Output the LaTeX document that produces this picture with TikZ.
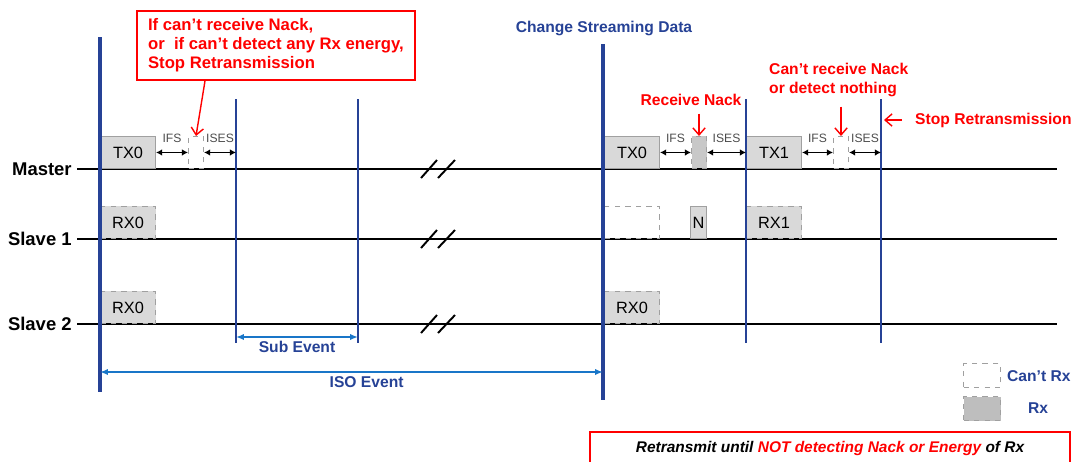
\documentclass[tikz,border=0pt]{standalone}
\usepackage{fontspec}
\setmainfont{Liberation Sans}
\usetikzlibrary{arrows.meta,positioning}

\definecolor{evblue}{RGB}{38,66,150}
\definecolor{evarrow}{RGB}{25,118,200}
\definecolor{pktgray}{RGB}{217,217,217}
\definecolor{slotgray}{RGB}{200,200,200}
\definecolor{pktline}{RGB}{160,160,160}

\begin{document}
\begin{tikzpicture}[x=0.02cm,y=-0.02cm,>=Latex,
  pkt/.style={draw=pktline,fill=pktgray,line width=0.6pt,inner sep=0pt,
    minimum width=1.1cm,minimum height=0.64cm,anchor=south west,
    font=\fontsize{9.3}{10}\selectfont},
  rxpkt/.style={pkt,dashed},
  slot/.style={draw=pktline,dashed,line width=0.6pt,inner sep=0pt,
    minimum width=0.3cm,minimum height=0.64cm,anchor=south west},
  gap/.style={{Latex[length=3.5pt,width=3.8pt]}-{Latex[length=3.5pt,width=3.8pt]},line width=0.9pt},
  gaplabel/.style={above=5pt,inner sep=0pt,text=black!70,font=\fontsize{6.9}{7}\selectfont},
  lane/.style={line width=1.1pt},
  lanename/.style={anchor=east,inner sep=0pt,font=\bfseries\fontsize{10.5}{12}\selectfont},
  evline/.style={evblue,line width=2.3pt},
  subline/.style={evblue,line width=0.6pt},
  span/.style={{Latex[length=4.5pt,width=3.6pt]}-{Latex[length=4.5pt,width=3.6pt]},evarrow,line width=0.9pt},
  spanlabel/.style={inner sep=1pt,text=evblue,font=\bfseries\fontsize{8.9}{10}\selectfont},
  note/.style={text=red,font=\bfseries\fontsize{8.9}{10.8}\selectfont},
  notearrow/.style={red,line width=0.8pt,-{Straight Barb[length=4pt,width=7pt]}},
]

\useasboundingbox (0,0) rectangle (1074,461);

% lanes
\foreach \ly/\lname/\ltext in {169/master/Master,239/slave1/Slave 1,324/slave2/Slave 2}{
  \draw[lane] (77,\ly) -- (1057,\ly);
  \node[lanename] (\lname) at (72,\ly) {\ltext};
  \draw[lane] (421,{\ly+9}) -- (437,{\ly-9});
  \draw[lane] (438,{\ly+9}) -- (455,{\ly-9});
}

% sub event boundaries
\coordinate (sub1) at (236,99);
\coordinate (sub2) at (358,99);
\coordinate (retx) at (746,99);
\coordinate (stopx) at (881,99);

% first ISO event
\node[pkt] (tx0) at (100,169) {TX0};
\node[slot] (s0) at (188,169) {};
\node[rxpkt] (rx0a) at (100,239) {RX0};
\node[rxpkt] (rx0b) at (100,324) {RX0};

% second ISO event
\node[pkt] (tx0n) at (604,169) {TX0};
\node[slot,fill=slotgray] (s1) at (691,169) {};
\node[pkt] (tx1) at (746,169) {TX1};
\node[slot] (s2) at (833,169) {};
\node[rxpkt,fill=white] (lost) at (604,239) {};
\node[pkt,minimum width=0.32cm] (nack) at (690,239) {N};
\node[rxpkt] (rx1) at (746,239) {RX1};
\node[rxpkt] (rx0c) at (604,324) {RX0};

% event lines
\draw[evline] (100,37) -- (100,392);
\draw[evline] (603,44) -- (603,400);
\foreach \c in {sub1,sub2,retx,stopx}
  \draw[subline] (\c) -- ++(0,244);

% inter frame spacing
\draw[gap] (tx0) -- (s0) node[midway,gaplabel] {IFS};
\draw[gap] (s0) -- (s0 -| sub1) node[midway,gaplabel] {ISES};
\draw[gap] (tx0n) -- (s1) node[midway,gaplabel] {IFS};
\draw[gap] (s1) -- (tx1) node[midway,gaplabel] {ISES};
\draw[gap] (tx1) -- (s2) node[midway,gaplabel] {IFS};
\draw[gap] (s2) -- (s2 -| stopx) node[midway,gaplabel] {ISES};

% event spans
\coordinate (iso0) at (100,372);
\coordinate (iso1) at (603,372);
\draw[span] (sub1 |- 0,337) -- (sub2 |- 0,337) node[midway,below=1pt,spanlabel] (subev) {Sub Event};
\draw[span] (iso0) -- (iso1) node[pos=0.53,below=1pt,spanlabel] (isoev) {ISO Event};

\node[spanlabel] (chg) at (604,28) {Change Streaming Data};

% notes
\node[draw=red,line width=1.1pt,fill=white,align=left,anchor=north west,
  minimum width=5.56cm,minimum height=1.38cm,text=red,
  font=\bfseries\fontsize{9.5}{10.8}\selectfont] (callout) at (136,10)
  {If can’t receive Nack,\\or\ \ if can’t detect any Rx energy,\\Stop Retransmission};
\draw[notearrow] (callout.south west) ++(69,0) -- (s0.north);

\node[note] (rnack) at (691,100) {Receive Nack};
\draw[notearrow,shorten <=1pt] (rnack.south -| s1.north) -- (s1.north);

\node[note,align=left,anchor=west] (cnack) at (763,80) {Can’t receive Nack\\or detect nothing};
\draw[notearrow,shorten <=2pt] (cnack.south -| s2.north) -- (s2.north);

\node[note,anchor=west] (stop) at (909,120) {Stop Retransmission};
\draw[notearrow,shorten <=4pt,shorten >=1.7pt] (stop.west) -- (stop.west -| stopx);

% legend
\node[slot,anchor=north west,minimum width=0.74cm,minimum height=0.48cm] (lgcant) at (963,363) {};
\node[slot,fill=slotgray!95!black,anchor=north west,minimum width=0.74cm,minimum height=0.48cm] (lgrx) at (963,396) {};
\node[spanlabel,anchor=west] (lgcanttext) at (1005,376) {Can’t Rx};
\node[spanlabel] (lgrxtext) at (1038,408) {Rx};

\node[draw=red,line width=1.2pt,minimum width=9.6cm,minimum height=0.64cm,
  font=\bfseries\itshape\fontsize{8.8}{10}\selectfont] (rule) at (830,448)
  {Retransmit until \textcolor{red}{NOT detecting Nack or Energy} of Rx};

\end{tikzpicture}
\end{document}
